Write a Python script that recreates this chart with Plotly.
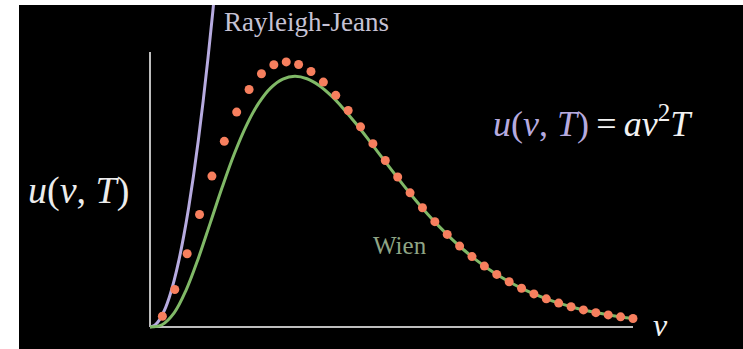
import plotly.graph_objects as go

# Planck samples (dots)
nu_dots = [0.2564, 0.5128, 0.7692, 1.0256, 1.2821, 1.5385, 1.7949, 2.0513, 2.3077, 2.5641,
           2.8205, 3.0769, 3.3333, 3.5897, 3.8462, 4.1026, 4.3590, 4.6154, 4.8718, 5.1282,
           5.3846, 5.6410, 5.8974, 6.1538, 6.4103, 6.6667, 6.9231, 7.1795, 7.4359, 7.6923,
           7.9487, 8.2051, 8.4615, 8.7179, 8.9744, 9.2308, 9.4872, 9.7436, 10.0]
u_dots = [0.0577, 0.2013, 0.3930, 0.6031, 0.8092, 0.9956, 1.1522, 1.2735, 1.3578, 1.4061,
          1.4214, 1.4078, 1.3701, 1.3132, 1.2420, 1.1607, 1.0731, 0.9829, 0.8925, 0.8041,
          0.7194, 0.6392, 0.5649, 0.4964, 0.4339, 0.3775, 0.3267, 0.2820, 0.2424, 0.2077,
          0.1773, 0.1509, 0.1281, 0.1084, 0.0915, 0.0770, 0.0647, 0.0543, 0.0454]

# Wien curve
nu_wien = [0, 0.25, 0.5, 0.75, 1.0, 1.25, 1.5, 1.75, 2.0, 2.25, 2.5, 2.75, 3.0, 3.25, 3.5,
           3.75, 4.0, 4.25, 4.5, 4.75, 5.0, 5.25, 5.5, 5.75, 6.0, 6.25, 6.5, 6.75, 7.0,
           7.25, 7.5, 7.75, 8.0, 8.25, 8.5, 8.75, 9.0, 9.25, 9.5, 9.75, 10.0]
u_wien = [0, 0.0122, 0.0758, 0.1993, 0.3679, 0.5596, 0.7531, 0.9314, 1.0827, 1.2006,
          1.2825, 1.3295, 1.3443, 1.3310, 1.2948, 1.2403, 1.1722, 1.0950, 1.0125, 0.9273,
          0.8422, 0.7594, 0.6800, 0.6051, 0.5354, 0.4713, 0.4128, 0.3601, 0.3128, 0.2706,
          0.2333, 0.2005, 0.1718, 0.1467, 0.1250, 0.1062, 0.0900, 0.0761, 0.0642, 0.0540,
          0.0454]

# Rayleigh-Jeans curve
nu_rj = [0, 0.1, 0.2, 0.3, 0.4, 0.5, 0.6, 0.7, 0.8, 0.9, 1.0, 1.1, 1.2, 1.3, 1.4]
u_rj = [0, 0.01, 0.04, 0.09, 0.16, 0.25, 0.36, 0.49, 0.64, 0.81, 1.0, 1.21, 1.44, 1.69, 1.96]

axis_x_end = 10.0
axis_y_end = 1.4745

SERIF = "Liberation Serif, DejaVu Serif, serif"

fig = go.Figure()

fig.add_trace(go.Scatter(x=nu_rj, y=u_rj, mode="lines", line=dict(color="#b7abe0", width=3, shape="spline"),
                         hoverinfo="skip", showlegend=False))
fig.add_trace(go.Scatter(x=nu_wien, y=u_wien, mode="lines", line=dict(color="#80b967", width=3, shape="spline"),
                         hoverinfo="skip", showlegend=False))
fig.add_trace(go.Scatter(x=nu_dots, y=u_dots, mode="markers", marker=dict(color="#f77f5e", size=9),
                         hoverinfo="skip", showlegend=False))

fig.add_shape(type="line", x0=0, y0=0, x1=axis_x_end, y1=0, line=dict(color="#bdbdbd", width=2), layer="below")
fig.add_shape(type="line", x0=0, y0=0, x1=0, y1=axis_y_end, line=dict(color="#bdbdbd", width=2), layer="below")

def px2x(px):
    return (px - 150) / 48.3

def py2y(py):
    return (327 - py) / 186.5

fig.add_annotation(x=px2x(306), y=py2y(22), text="Rayleigh-Jeans", showarrow=False,
                   font=dict(family=SERIF, size=27, color="#c6c2d4"))
fig.add_annotation(x=px2x(400), y=py2y(245), text="Wien", showarrow=False,
                   font=dict(family=SERIF, size=25, color="#8fa585"))
fig.add_annotation(x=px2x(593), y=py2y(121),
                   text="<span style='color:#b6aadf'><i>u</i>(<i>ν</i>, <i>T</i>)</span>&#8201;=&#8201;<i>aν</i><sup>2</sup><i>T</i>",
                   showarrow=False, font=dict(family=SERIF, size=36, color="#f2f2f2"))
fig.add_annotation(x=px2x(78), y=py2y(190), text="<i>u</i>(<i>ν</i>, <i>T</i>)", showarrow=False,
                   font=dict(family=SERIF, size=38, color="#ececec"))
fig.add_annotation(x=px2x(660), y=py2y(325), text="<i>ν</i>", showarrow=False,
                   font=dict(family=SERIF, size=32, color="#f2f2f2"))

fig.update_layout(
    width=743, height=349,
    margin=dict(l=19, r=0, t=5, b=0),
    paper_bgcolor="white", plot_bgcolor="black",
    xaxis=dict(range=[px2x(19), px2x(743)], visible=False, fixedrange=True),
    yaxis=dict(range=[py2y(349), py2y(5)], visible=False, fixedrange=True),
)

fig.write_html("out.html", config={"displayModeBar": False},
               post_script="document.body.style.margin='0';document.body.style.overflow='hidden';")
